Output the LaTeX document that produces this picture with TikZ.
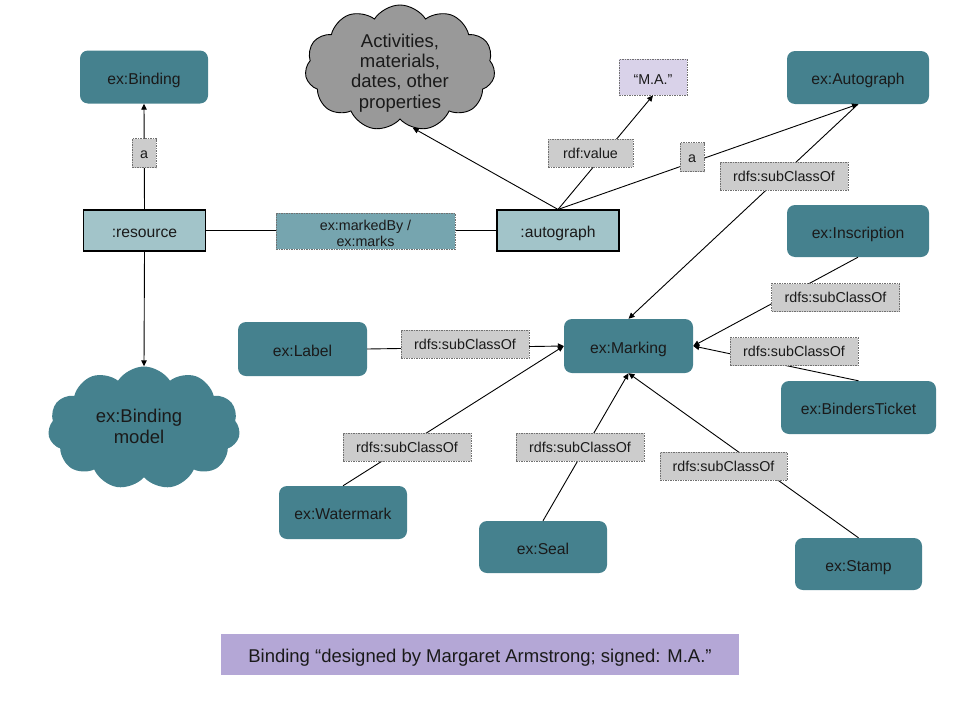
\documentclass[tikz,border=0pt]{standalone}
\usepackage{fontspec}
\setmainfont{Liberation Sans}
\usetikzlibrary{shapes.symbols,arrows.meta}
\definecolor{clsfill}{HTML}{45818E}
\definecolor{instfill}{HTML}{A2C4C9}
\definecolor{lblfill}{HTML}{CCCCCC}
\definecolor{lbldraw}{HTML}{707070}
\definecolor{markfill}{HTML}{76A5AF}
\definecolor{litfill}{HTML}{D9D2E9}
\definecolor{capfill}{HTML}{B4A7D6}
\definecolor{cloudgray}{HTML}{999999}
\definecolor{txt}{HTML}{1A1A1A}
\begin{document}
\begin{tikzpicture}[x=1pt,y=-1pt,
  cls/.style={rectangle, rounded corners=8pt, fill=clsfill, draw=none, inner sep=0pt,
    minimum width=128pt, minimum height=53pt, text=txt, font=\fontsize{15.7}{18}\selectfont,
    text height=18.8pt, text depth=3.9pt},
  inst/.style={rectangle, fill=instfill, draw=black, line width=1.1pt, inner sep=0pt,
    minimum width=122pt, minimum height=41pt, text=txt, font=\fontsize{15.7}{18}\selectfont,
    text height=17.3pt, text depth=3.6pt},
  lbl/.style={rectangle, fill=lblfill, draw=lbldraw, line width=0.7pt, dash pattern=on 1.5pt off 1pt,
    inner sep=0pt, minimum width=128pt, minimum height=28pt, text=txt, font=\fontsize{14.3}{16.5}\selectfont,
    text height=14pt, text depth=3.4pt},
  freetext/.style={inner sep=0pt, align=center, text=txt},
  conn/.style={draw=black, line width=0.9pt},
  arr/.style={conn, -{Triangle[length=6pt,width=5.5pt]}},
  cloudbox/.style={cloud, cloud puffs=11, cloud puff arc=115, aspect=1.5, inner sep=0pt}
]
\useasboundingbox (0,0) rectangle (960,720);

% class nodes
\node[cls] (binding) at (144,77) {ex:Binding};
\node[cls, minimum width=142pt] (autographC) at (858,77.5) {ex:Autograph};
\node[cls, minimum width=142pt, minimum height=52pt] (inscription) at (858,231) {ex:Inscription};
\node[cls, minimum width=129pt, minimum height=54pt] (marking) at (628.5,346) {ex:Marking};
\node[cls, minimum width=129pt, minimum height=54pt] (label) at (302.5,349) {ex:Label};
\node[cls, minimum width=155pt] (binders) at (858.5,407.5) {ex:BindersTicket};
\node[cls] (watermark) at (343,512.5) {ex:Watermark};
\node[cls, minimum height=52pt] (seal) at (543,547) {ex:Seal};
\node[cls, minimum width=127pt, minimum height=52pt] (stamp) at (858.5,564) {ex:Stamp};

% instance nodes
\node[inst] (resource) at (144.5,230.5) {:resource};
\node[inst] (autograph) at (558,230.5) {:autograph};

% literal
\node[lbl, fill=litfill, minimum width=68pt, minimum height=36pt, text height=17.2pt, text depth=3.2pt] (ma) at (653,77) {“M.A.”};

% clouds
\node[cloudbox, fill=cloudgray, draw=black, line width=0.9pt, minimum width=190pt, minimum height=126pt,
  label={[freetext, font=\fontsize{18.5}{20.3}\selectfont, yshift=-5pt]center:{Activities,\\materials,\\dates, other\\properties}}] (cloudA) at (400,68) {};
\node[cloudbox, fill=clsfill, draw=none, minimum width=192pt, minimum height=123pt,
  label={[freetext, font=\fontsize{18.5}{21}\selectfont, xshift=-5pt, yshift=2pt]center:{ex:Binding\\model}}] (cloudB) at (144,428) {};

% caption
\node[rectangle, fill=capfill, draw=none, minimum width=518pt, minimum height=41pt, inner sep=0pt,
  text=txt, font=\fontsize{18.5}{21}\selectfont, text height=21.3pt, text depth=4.6pt] (caption) at (480,654.5) {Binding “designed by Margaret Armstrong; signed: M.A.”};

% connectors
\draw[arr] (resource.north) -- (binding.south);
\draw[arr] (resource.south) -- (cloudB.north);
\draw[conn] (resource.east) -- (autograph.west);
\draw[arr] (autograph.north) -- (cloudA.-78);
\draw[arr] (autograph.north) -- (ma.south);
\draw[arr] (autograph.north) -- (autographC.south);
\draw[arr] (autographC.south) -- (marking.north);
\draw[arr] (inscription.south) -- (marking.east);
\draw[arr] (binders.north) -- (marking.east);
\draw[arr] (label.east) -- (marking.west);
\draw[arr] (watermark.north) -- (marking.west);
\draw[arr] (seal.north) -- (marking.south);
\draw[arr] (stamp.north) -- (marking.south);

% edge labels
\node[lbl, minimum width=24pt, minimum height=29pt] (la1) at (144,153) {a};
\node[lbl, fill=markfill, minimum width=179pt, minimum height=36pt,
  label={[freetext, font=\fontsize{14.3}{16}\selectfont, yshift=-2.5pt]center:{ex:markedBy /\\ex:marks}}] (lmark) at (365.5,231) {};
\node[lbl, minimum width=85pt] (lval) at (590.5,153) {rdf:value};
\node[lbl, minimum width=24pt, minimum height=29pt] (la2) at (692,157) {a};
\node[lbl] (ls1) at (784,176) {rdfs:subClassOf};
\node[lbl] (ls2) at (835.5,297.5) {rdfs:subClassOf};
\node[lbl] (ls3) at (794,351.5) {rdfs:subClassOf};
\node[lbl] (ls4) at (465,344) {rdfs:subClassOf};
\node[lbl] (ls5) at (407,447) {rdfs:subClassOf};
\node[lbl] (ls6) at (580,447) {rdfs:subClassOf};
\node[lbl, minimum width=127pt] (ls7) at (723.5,466) {rdfs:subClassOf};
\end{tikzpicture}
\end{document}
